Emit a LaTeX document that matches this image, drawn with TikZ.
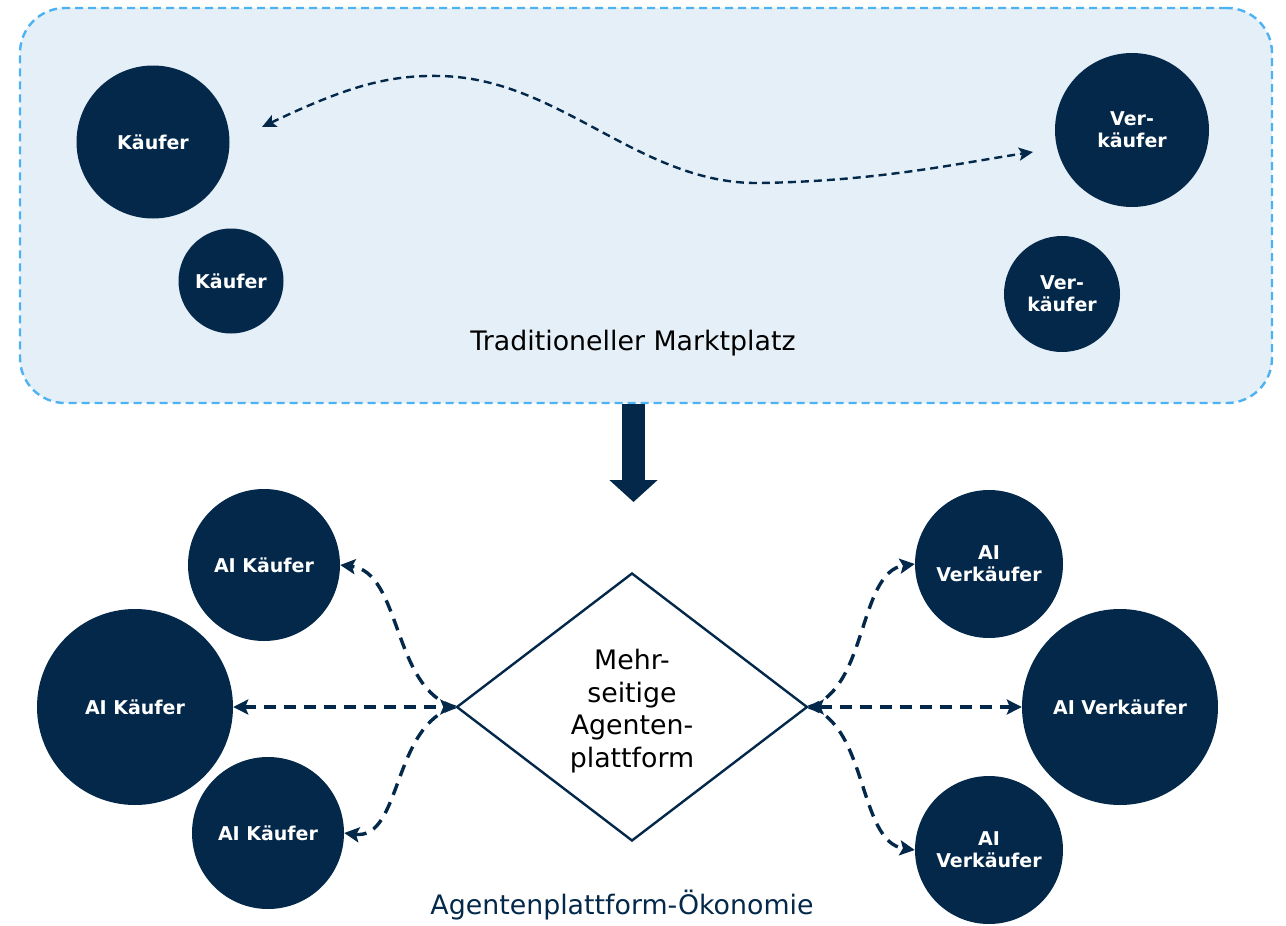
\documentclass[tikz,border=0pt]{standalone}
\usepackage{fontspec}
\setmainfont{DejaVu Sans}
\usetikzlibrary{arrows.meta,shapes.geometric}
\definecolor{navy}{HTML}{03284A}
\definecolor{boxfill}{HTML}{E4EFF7}
\definecolor{boxline}{HTML}{4DB2F2}
\begin{document}
\begin{tikzpicture}[x=1pt,y=-1pt,
  agent/.style={circle, fill=navy, text=white, font=\fontsize{19}{22}\selectfont\bfseries, align=center, inner sep=0pt},
  flow/.style={draw=navy, line width=2.4pt, dash pattern=on 8pt off 5pt, {Stealth[length=14pt,width=13pt,inset=3pt]}-{Stealth[length=14pt,width=13pt,inset=3pt]}},
  link/.style={draw=navy, line width=3.4pt, dash pattern=on 12pt off 8pt},
  tip/.style={-{Stealth[length=15pt,width=15pt,inset=3pt]}},
  tips/.style={{Stealth[length=15pt,width=15pt,inset=3pt]}-{Stealth[length=15pt,width=15pt,inset=3pt]}},
  caption/.style={font=\fontsize{26.8}{32.5}\selectfont}
]
\useasboundingbox (0,0) rectangle (1286,926);
% traditional marketplace
\node[draw=boxline, fill=boxfill, line width=2.4pt, dash pattern=on 8pt off 5pt, rounded corners=45pt,
      minimum width=1252pt, minimum height=395pt, inner sep=0pt] (market) at (646,205.5) {};
\node[agent, minimum size=153pt] (k1) at (153,142) {Käufer};
\node[agent, minimum size=105pt] (k2) at (231,281) {Käufer};
\node[agent, minimum size=154pt] (v1) at (1132,130) {Ver-\\käufer};
\node[agent, minimum size=116pt] (v2) at (1062,294) {Ver-\\käufer};
\node[caption, text=black] (mlabel) at (633,343) {Traditioneller Marktplatz};
\coordinate (ta) at (262,127);
\coordinate (tb) at (1033,152);
\draw[flow] (ta) .. controls (350,85) and (390,75) .. (440,76) .. controls (560,78) and (640,185) .. (760,183) .. controls (880,181) and (960,163) .. (tb);
% platform
\node[diamond, draw=navy, line width=2.4pt, fill=white, minimum width=351pt, minimum height=268pt, aspect=1.31,
      inner sep=0pt] (dia) at (632,707) {};
\node[caption, align=center, text=black] (dlabel) at (632,711) {Mehr-\\seitige\\Agenten-\\plattform};
\draw[navy, line width=23pt, -{Triangle[length=22pt,width=47pt]}] (market.south -| 633.5,0) -- (633.5,502);
\node[agent, minimum size=152pt] (ak1) at (264,565) {AI Käufer};
\node[agent, minimum size=196pt] (ak2) at (135,707) {AI Käufer};
\node[agent, minimum size=152pt] (ak3) at (268,833) {AI Käufer};
\node[agent, minimum size=148pt] (av1) at (989,564) {AI\\Verkäufer};
\node[agent, minimum size=196pt] (av2) at (1120,707) {AI Verkäufer};
\node[agent, minimum size=148pt] (av3) at (989,850) {AI\\Verkäufer};
\draw[link, tips] (ak2.east) -- (dia.west);
\draw[link, tip] (dia.west) .. controls (392,690) and (402,572) .. (ak1.east);
\draw[link, tip] (dia.west) .. controls (392,724) and (402,840) .. (ak3.east);
\draw[link, tips] (dia.east) -- (av2.west);
\draw[link, tip] (dia.east) .. controls (868,690) and (858,572) .. (av1.west);
\draw[link, tip] (dia.east) .. controls (868,724) and (858,842) .. (av3.west);
\node[caption, text=navy] (alabel) at (622,905) {Agentenplattform-Ökonomie};
\end{tikzpicture}
\end{document}
